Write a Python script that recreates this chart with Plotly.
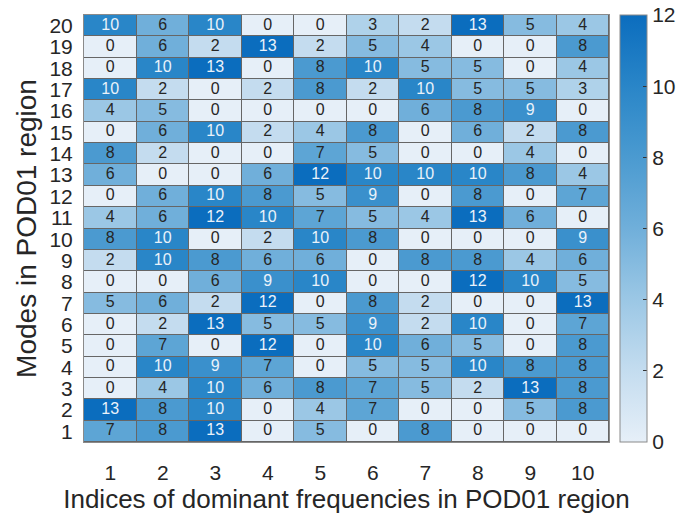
import plotly.graph_objects as go

# Count matrix: rows are modes 20 (top) down to 1, columns are frequency indices 1..10
freq_idx = list(range(1, 11))
modes = list(range(20, 0, -1))
counts_top_down = [
    [10, 6, 10, 0, 0, 3, 2, 13, 5, 4],    # 20
    [0, 6, 2, 13, 2, 5, 4, 0, 0, 8],      # 19
    [0, 10, 13, 0, 8, 10, 5, 5, 0, 4],    # 18
    [10, 2, 0, 2, 8, 2, 10, 5, 5, 3],     # 17
    [4, 5, 0, 0, 0, 0, 6, 8, 9, 0],       # 16
    [0, 6, 10, 2, 4, 8, 0, 6, 2, 8],      # 15
    [8, 2, 0, 0, 7, 5, 0, 0, 4, 0],       # 14
    [6, 0, 0, 6, 12, 10, 10, 10, 8, 4],   # 13
    [0, 6, 10, 8, 5, 9, 0, 8, 0, 7],      # 12
    [4, 6, 12, 10, 7, 5, 4, 13, 6, 0],    # 11
    [8, 10, 0, 2, 10, 8, 0, 0, 0, 9],     # 10
    [2, 10, 8, 6, 6, 0, 8, 8, 4, 6],      # 9
    [0, 0, 6, 9, 10, 0, 0, 12, 10, 5],    # 8
    [5, 6, 2, 12, 0, 8, 2, 0, 0, 13],     # 7
    [0, 2, 13, 5, 5, 9, 2, 10, 0, 7],     # 6
    [0, 7, 0, 12, 0, 10, 6, 5, 0, 8],     # 5
    [0, 10, 9, 7, 0, 5, 5, 10, 8, 8],     # 4
    [0, 4, 10, 6, 8, 7, 5, 2, 13, 8],     # 3
    [13, 8, 10, 0, 4, 7, 0, 0, 5, 8],     # 2
    [7, 8, 13, 0, 5, 0, 8, 0, 0, 0],      # 1
]
cbar_ticks = [0, 2, 4, 6, 8, 10, 12]

blues = [
    [0.0, "#E6EFF8"],
    [0.17, "#C3DCEF"],
    [0.35, "#97C5E4"],
    [0.5, "#70AFDA"],
    [0.67, "#4A9AD0"],
    [0.83, "#2A86C8"],
    [1.0, "#0B6DBE"],
]

font_family = "Liberation Sans, Arial, sans-serif"

fig = go.Figure()
fig.add_trace(go.Heatmap(
    x=freq_idx, y=modes, z=counts_top_down,
    zmin=0, zmax=12, colorscale=blues,
    xgap=1, ygap=1, hoverinfo="skip",
    colorbar=dict(
        x=1.021, xanchor="left", y=0.5, yanchor="middle",
        len=1.0, lenmode="fraction", thickness=27, thicknessmode="pixels",
        outlinecolor="#8a8a8a", outlinewidth=1,
        tickvals=cbar_ticks, ticks="inside", ticklen=4, tickcolor="#333",
        tickfont=dict(size=21, color="#262626", family=font_family),
        xpad=0, ypad=0,
    ),
))

# Cell value labels, light on the darker cells
tx, ty, tt, tc = [], [], [], []
for r, mode in enumerate(modes):
    for c, f in enumerate(freq_idx):
        v = counts_top_down[r][c]
        tx.append(f)
        ty.append(mode)
        tt.append(str(v))
        tc.append("#EAF2FA" if v >= 9 else "#262626")
fig.add_trace(go.Scatter(
    x=tx, y=ty, text=tt, mode="text", hoverinfo="skip", showlegend=False,
    textfont=dict(size=16, color=tc, family=font_family),
))

fig.update_layout(
    width=693, height=520,
    margin=dict(l=84, r=84, t=15, b=78),
    paper_bgcolor="white", plot_bgcolor="#666666",
    font=dict(family=font_family, color="#262626"),
)
fig.update_xaxes(
    range=[0.5, 10.5], tickvals=freq_idx, ticks="", showgrid=False, zeroline=False,
    tickfont=dict(size=21), ticklabelstandoff=12,
    title=dict(text="Indices of dominant frequencies in POD01 region", font=dict(size=26), standoff=6),
    showline=True, linecolor="#8a8a8a", mirror=True,
)
fig.update_yaxes(
    range=[0.5, 20.5], tickvals=modes, ticks="", showgrid=False, zeroline=False,
    tickfont=dict(size=21), ticklabelstandoff=6,
    title=dict(text="Modes in POD01 region", font=dict(size=28), standoff=4),
    showline=True, linecolor="#8a8a8a", mirror=True,
)

fig.write_html("out.html")
